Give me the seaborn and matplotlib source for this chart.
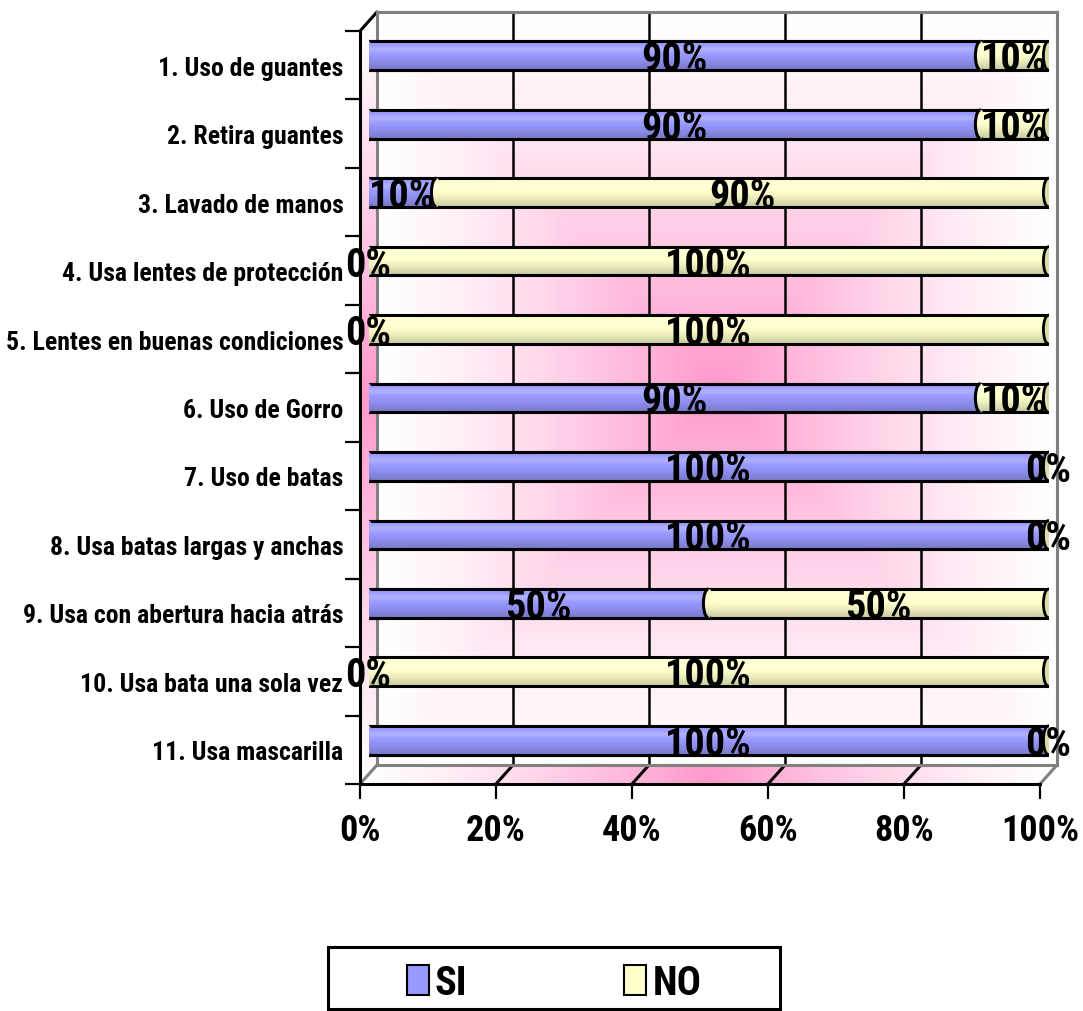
import numpy as np
import pandas as pd
import matplotlib
matplotlib.use("Agg")
import matplotlib.pyplot as plt
from matplotlib import font_manager
from matplotlib.patches import Ellipse, Arc, Polygon, Rectangle, Patch
from matplotlib.colors import to_rgb
import seaborn as sns

# ---- data -------------------------------------------------------------
items = [
    "1. Uso de guantes",
    "2. Retira guantes",
    "3. Lavado de manos",
    "4. Usa lentes de protección",
    "5. Lentes en buenas condiciones",
    "6. Uso de Gorro",
    "7. Uso de batas",
    "8. Usa batas largas y anchas",
    "9. Usa con abertura hacia atrás",
    "10. Usa bata una sola vez",
    "11. Usa mascarilla",
]
si_pct = [90, 90, 10, 0, 0, 90, 100, 100, 50, 0, 100]
no_pct = [10, 10, 90, 100, 100, 10, 0, 0, 50, 100, 0]
x_ticks = [0, 20, 40, 60, 80, 100]
series_names = ["SI", "NO"]

# ---- style ------------------------------------------------------------
sns.set_theme(style="white")
names = {f.name for f in font_manager.fontManager.ttflist}
FONT = next((f for f in ("Roboto Condensed", "PT Sans Narrow",
                         "Liberation Sans Narrow", "Liberation Sans")
             if f in names), "DejaVu Sans")
FAMILY = [FONT, "DejaVu Sans"]
plt.rcParams["font.family"] = FAMILY
plt.rcParams["font.weight"] = "bold"
for key in ("text.color", "axes.labelcolor", "xtick.color", "ytick.color"):
    plt.rcParams[key] = "black"

SI_COLOR = "#9999FF"
NO_COLOR = "#FFFFCC"
NO_FACE = "#DCDCAA"
PINK = np.array(to_rgb("#FF99CC"))
WHITE = np.ones(3)
GREY = "#808080"

W, H = 1083, 1012
fig = plt.figure(figsize=(W / 100, H / 100), dpi=100)
fig.patch.set_facecolor("white")


def rect(x0, y0, x1, y1):
    """Pixel box (top-left origin) -> figure fraction rect."""
    return [x0 / W, 1 - y1 / H, (x1 - x0) / W, (y1 - y0) / H]


def blend(s):
    s = np.clip(s, 0, 1)[..., None]
    return WHITE * (1 - s) + PINK * s


# depth offset of the 3-D frame (pixels)
DX, DY = 17, -19
FX0, FX1, FY0, FY1 = 360, 1040, 32, 785          # front plane
BX0, BX1, BY0, BY1 = FX0 + DX, FX1 + DX, FY0 + DY, FY1 + DY  # back wall

# ---- frame decorations in pixel space ---------------------------------
ax_dec = fig.add_axes([0, 0, 1, 1], zorder=0)
ax_dec.set_xlim(0, W)
ax_dec.set_ylim(H, 0)
ax_dec.axis("off")

# floor
xs = np.linspace(0, 1, 400)
floor_img = blend((1 - np.abs(xs - 0.5) / 0.5) ** 1.3)[None, :, :]
floor_poly = Polygon([(FX0, FY1), (FX1, FY1), (BX1, BY1), (BX0, BY1)],
                     closed=True, facecolor="none", edgecolor="none")
ax_dec.add_patch(floor_poly)
im = ax_dec.imshow(floor_img, extent=(FX0, BX1, FY1, BY1), aspect="auto",
                   interpolation="bilinear")
im.set_clip_path(floor_poly)

# left side wall
ys = np.linspace(0, 1, 400)
wall_img = blend((1 - np.abs(ys - 0.5) / 0.5) ** 1.1)[:, None, :]
wall_poly = Polygon([(FX0, FY0), (BX0, BY0), (BX0, BY1), (FX0, FY1)],
                    closed=True, facecolor="none", edgecolor="none")
ax_dec.add_patch(wall_poly)
im = ax_dec.imshow(wall_img, extent=(FX0, BX0, FY1, BY0), aspect="auto",
                   interpolation="bilinear")
im.set_clip_path(wall_poly)

# floor diagonals and top-left edge
for v in x_ticks:
    fx = FX0 + (FX1 - FX0) * v / 100
    col = GREY if v in (0, 100) else "black"
    ax_dec.plot([fx, fx + DX], [FY1, FY1 + DY], color=col, lw=2.2,
                solid_capstyle="butt")
ax_dec.plot([FX0, BX0], [FY0, BY0], color="black", lw=2.2)

# ---- back wall --------------------------------------------------------
ax_back = fig.add_axes(rect(BX0, BY0, BX1, BY1), zorder=1)
gx, gy = np.meshgrid(np.linspace(0, 1, 500), np.linspace(0, 1, 500))
t = np.maximum(np.abs(gx - 0.5) / 0.5, np.abs(gy - 0.5) / 0.5)
ax_back.imshow(blend((1 - t) ** 1.3), extent=(0, 100, 0, 1), aspect="auto",
               interpolation="bilinear", origin="upper")
for v in x_ticks[1:-1]:
    ax_back.axvline(v, color="black", lw=1.8)
ax_back.set_xlim(0, 100)
ax_back.set_ylim(0, 1)
ax_back.set_xticks([])
ax_back.set_yticks([])
for sp in ax_back.spines.values():
    sp.set_color(GREY)
    sp.set_linewidth(2.2)

# ---- front axes: spines, ticks and labels -----------------------------
ax_front = fig.add_axes(rect(FX0, FY0, FX1, FY1), zorder=2)
ax_front.patch.set_alpha(0)
ax_front.set_xlim(0, 100)
ax_front.set_ylim(len(items) - 0.5, -0.5)
for side in ("top", "right"):
    ax_front.spines[side].set_visible(False)
for side in ("left", "bottom"):
    ax_front.spines[side].set_color("black")
    ax_front.spines[side].set_linewidth(2.2)
ax_front.set_xticks(x_ticks)
ax_front.set_xticklabels([f"{v}%" for v in x_ticks], fontsize=26,
                         fontweight="bold")
ax_front.set_yticks(np.arange(-0.5, len(items), 1.0))
ax_front.set_yticklabels([])
ax_front.set_yticks(np.arange(len(items)), minor=True)
ax_front.set_yticklabels(items, minor=True, fontsize=18.5, fontweight="bold")
ax_front.tick_params(axis="x", which="major", direction="out", length=11,
                     width=1.6, color="black", pad=9, bottom=True)
ax_front.tick_params(axis="y", which="major", direction="out", length=11,
                     width=1.6, color="black", left=True)
ax_front.tick_params(axis="y", which="minor", length=0, pad=12, left=True)
ax_front.grid(False)

# ---- bars ---------------------------------------------------------------
ax = fig.add_axes(rect(FX0 + DX / 2, FY0 + DY / 2, FX1 + DX / 2, FY1 + DY / 2),
                  zorder=3)
ax.patch.set_alpha(0)

df = pd.DataFrame({"item": items, "SI": si_pct, "NO": no_pct})
df["total"] = df["SI"] + df["NO"]
BAR_H = 0.42

sns.barplot(data=df, x="total", y="item", orient="h", color=NO_COLOR,
            saturation=1, width=BAR_H, edgecolor="black", linewidth=2.2,
            ax=ax, zorder=2)
sns.barplot(data=df, x="SI", y="item", orient="h", color=SI_COLOR,
            saturation=1, width=BAR_H, edgecolor="black", linewidth=2.2,
            ax=ax, zorder=3)

# cylinder shading overlay (highlight near the top, darker underside)
prof = np.linspace(0, 1, 60)
shade = np.zeros((60, 1, 4))
light = np.exp(-((prof - 0.28) / 0.12) ** 2) * 0.22
dark = np.clip((prof - 0.45) / 0.55, 0, 1) ** 1.2 * 0.22
shade[:, 0, :3] = np.where(light[:, None] > dark[:, None], 1.0, 0.0)
shade[:, 0, 3] = np.maximum(light, dark)


def add_shade(patch, x0, x1, yc, z):
    img = ax.imshow(shade, extent=(x0, x1, yc + BAR_H / 2, yc - BAR_H / 2),
                    aspect="auto", interpolation="bilinear", origin="upper",
                    zorder=z)
    img.set_clip_path(patch)


for p in list(ax.patches):
    w = p.get_width()
    if w > 0:
        add_shade(p, p.get_x(), p.get_x() + w, p.get_y() + BAR_H / 2,
                  p.get_zorder() + 0.1)

CAP_W = 1.5
for i, (s, n) in enumerate(zip(si_pct, no_pct)):
    segments = [(0, s, SI_COLOR), (s, n, NO_COLOR)]
    for k, (start, width, col) in enumerate(segments):
        if width <= 0:
            continue
        z = 4 + k * 0.5
        e = Ellipse((start, i), CAP_W, BAR_H, facecolor=col, edgecolor="none",
                    zorder=z)
        ax.add_patch(e)
        add_shade(e, start - CAP_W / 2, start + CAP_W / 2, i, z + 0.05)
        ax.add_patch(Arc((start, i), CAP_W, BAR_H, theta1=90, theta2=270,
                         color="black", lw=2.2, zorder=z + 0.1))
    # visible end face of the cylinder
    ax.add_patch(Ellipse((s + n, i), CAP_W, BAR_H, facecolor=NO_FACE,
                         edgecolor="black", lw=2.0, zorder=6))

# value labels centred on each segment
for i, (s, n) in enumerate(zip(si_pct, no_pct)):
    for start, width in ((0, s), (s, n)):
        ax.text(start + width / 2, i + 0.05, f"{width}%", ha="center",
                va="center", fontsize=29, fontweight="bold", color="black",
                zorder=8, clip_on=False)

ax.set_xlim(0, 100)
ax.set_ylim(len(items) - 0.5, -0.5)
ax.axis("off")

# ---- legend -------------------------------------------------------------
LX0, LY0, LX1, LY1 = 328, 948, 780, 1010
ax_dec.add_patch(Rectangle((LX0, LY0), LX1 - LX0, LY1 - LY0, facecolor="white",
                           edgecolor="black", lw=2.2, zorder=5))
handles = [Patch(facecolor=SI_COLOR, edgecolor="black", lw=1.5),
           Patch(facecolor=NO_COLOR, edgecolor="black", lw=1.5)]
fig.legend(handles, series_names, loc="center",
           bbox_to_anchor=((LX0 + LX1) / 2 / W, 1 - ((LY0 + LY1) / 2 + 5) / H),
           ncol=2, frameon=False,
           prop={"family": FAMILY, "weight": "bold", "size": 29},
           handlelength=0.55, handleheight=0.75, handletextpad=0.15,
           columnspacing=3.9)

fig.savefig("out.png", dpi=100, facecolor="white")
